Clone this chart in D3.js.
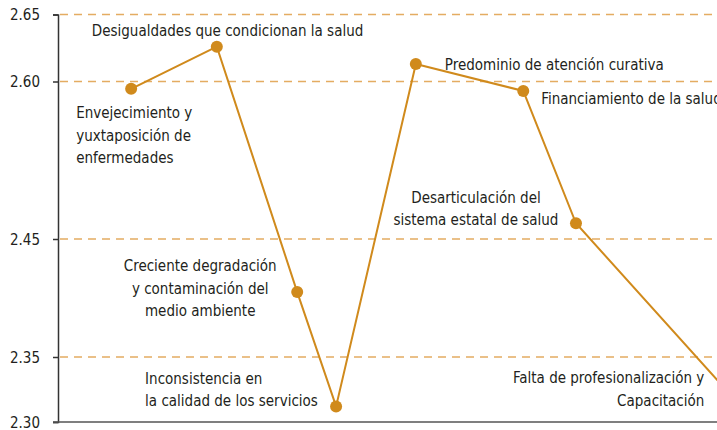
<!DOCTYPE html>
<meta charset="utf-8">
<style>
body {
	margin: 0;
	background-color: white;
}
#chart text {
	font-family: "Liberation Sans Narrow", "DejaVu Sans Condensed", sans-serif;
	font-size: 15px;
	fill: #231f20;
}
.grid line {
	stroke: #e4ac62;
	stroke-width: 1.5px;
	stroke-dasharray: 8 6;
}
</style>
<html>
	<body>
		<svg id="chart"></svg>
<script src="https://cdn.jsdelivr.net/npm/d3@7"></script>
<script>
'use strict'

// data
const categories = [
	"Envejecimiento y\nyuxtaposición de\nenfermedades",
	"Desigualdades que condicionan la salud",
	"Creciente degradación\ny contaminación del\nmedio ambiente",
	"Inconsistencia en\nla calidad de los servicios",
	"Predominio de atención curativa",
	"Financiamiento de la salud",
	"Desarticulación del\nsistema estatal de salud",
	"Falta de profesionalización y\nCapacitación"
]
const xPositions = [1.11, 2.41, 3.63, 4.22, 5.43, 7.06, 7.86, 10.4]
const values = [2.593, 2.626, 2.405, 2.312, 2.613, 2.591, 2.465, 2.31]
const tickValues = [2.30, 2.35, 2.45, 2.60, 2.65]

const chartWidth  = 717,
	  chartHeight = 430

// label placement relative to each point: [dx, dy, anchor]
const labelLayout = [
	[-55, 24, "start"],
	[-125, -16, "start"],
	[-97, -26, "middle"],
	[-191, -28, "start"],
	[29, 1, "start"],
	[18, 8, "start"],
	[-100, -26, "middle"],
	[-39, -31, "end"]
]
const lineHeight = 22.5

const svg = d3.select("#chart")
	.attr("width", chartWidth)
	.attr("height", chartHeight)

const x = d3.scaleLinear().domain([0, 10]).range([58, 717])
// the original axis is not evenly spaced, so map ticks piecewise
const y = d3.scaleLinear()
	.domain([2.30, 2.35, 2.45, 2.60, 2.65])
	.range([422, 357, 239, 81.5, 14.5])

// dashed gridlines (not at the bottom)
svg.append("g")
	.attr("class", "grid")
	.selectAll("line")
	.data(tickValues.filter(d => d > 2.30))
	.enter().append("line")
	  .attr("x1", x(0) + 2)
	  .attr("x2", chartWidth)
	  .attr("y1", d => y(d))
	  .attr("y2", d => y(d))

// y axis
const yAxis = svg.append("g")
	.attr("transform", "translate(" + x(0) + ",0)")
	.call(d3.axisLeft(y).tickValues(tickValues).tickFormat(d3.format(".2f")).tickSize(5).tickPadding(13))
yAxis.select(".domain").attr("stroke", "#333").attr("stroke-width", 1.5)
yAxis.selectAll(".tick line").attr("stroke", "#333").attr("stroke-width", 1.5)
yAxis.selectAll(".tick text").attr("dy", "0.35em")

// bottom axis line
svg.append("line")
	.attr("x1", x(0) - 5)
	.attr("x2", chartWidth)
	.attr("y1", y(2.30))
	.attr("y2", y(2.30))
	.attr("stroke", "#555")
	.attr("stroke-width", 1.5)

const points = categories.map((c, i) => ({ name: c, x: xPositions[i], v: values[i] }))

const line = d3.line()
	.x(d => x(d.x))
	.y(d => y(d.v))

svg.append("path")
	.datum(points)
	.attr("fill", "none")
	.attr("stroke", "#d08a1c")
	.attr("stroke-width", 2)
	.attr("d", line)

svg.append("g")
	.selectAll("circle")
	.data(points)
	.enter().append("circle")
	  .attr("cx", d => x(d.x))
	  .attr("cy", d => y(d.v))
	  .attr("r", 6)
	  .attr("fill", "#d08a1c")

// labels
const labels = svg.append("g")
	.selectAll("text")
	.data(points)
	.enter().append("text")
	  .attr("text-anchor", (d, i) => labelLayout[i][2])
	  .attr("transform", (d, i) => "translate(" + (x(d.x) + labelLayout[i][0]) + "," + (y(d.v) + labelLayout[i][1]) + ")")

labels.selectAll("tspan")
	.data(d => d.name.split("\n"))
	.enter().append("tspan")
	  .attr("x", 0)
	  .attr("y", (d, i) => i * lineHeight)
	  .attr("dy", "0.35em")
	  .text(d => d)
</script>
	</body>
</html>
